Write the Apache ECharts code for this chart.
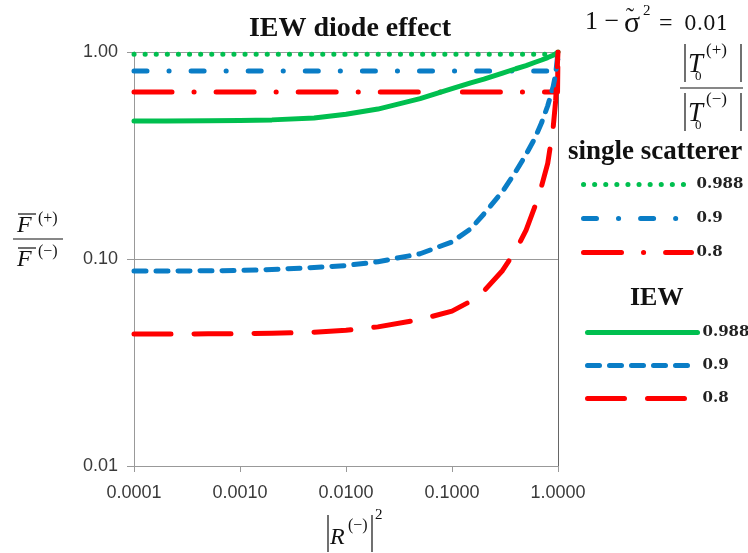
<!DOCTYPE html>
<html>
<head>
    <meta charset="UTF-8">
    <title>IEW diode effect</title>
    <script src="https://cdn.jsdelivr.net/npm/echarts@6/dist/echarts.min.js"></script>
    <style>
        html, body { margin: 0; padding: 0; background: #fff; }
        #main { width: 748px; height: 553px; }
    </style>
</head>
<body>
<div id="main"></div>
<script>
    // single scatterer: flat ratio, jumps to 1 at |R|^2 = 1
    var xSingle = [0.0001, 0.99, 1];
    var single988 = [0.976, 0.976, 1];
    var single09 = [0.81, 0.81, 1];
    var single08 = [0.64, 0.64, 1];

    // IEW curves
    var xIew = [0.0001, 0.0002, 0.0005, 0.001, 0.002, 0.005, 0.01, 0.02, 0.05, 0.1, 0.15,
        0.2, 0.3, 0.4, 0.5, 0.6, 0.7, 0.8, 0.9, 0.95, 1];
    var iew988 = [0.464, 0.464, 0.465, 0.467, 0.470, 0.480, 0.500, 0.530, 0.595, 0.665, 0.71,
        0.74, 0.79, 0.83, 0.86, 0.89, 0.915, 0.94, 0.965, 0.98, 1.0];
    var iew09 = [0.0875, 0.0875, 0.0877, 0.088, 0.089, 0.091, 0.093, 0.097, 0.106, 0.121, 0.14,
        0.165, 0.212, 0.265, 0.32, 0.38, 0.455, 0.55, 0.68, 0.78, 1.0];
    var iew08 = [0.0434, 0.0434, 0.0435, 0.0436, 0.0438, 0.0443, 0.0453, 0.047, 0.051, 0.056, 0.0625,
        0.07, 0.088, 0.11, 0.138, 0.177, 0.225, 0.29, 0.43, 0.58, 1.0];

    var singleNames = ['single 0.988', 'single 0.9', 'single 0.8'];
    var iewNames = ['IEW 0.988', 'IEW 0.9', 'IEW 0.8'];

    var GREEN = '#00BF4F', BLUE = '#0A7DC6', RED = '#FF0000';
    var SERIF = '"Liberation Serif", "DejaVu Serif", serif';

    function pairs(xs, ys) {
        var out = [];
        for (var i = 0; i < xs.length; i++) {
            out.push([xs[i], ys[i]]);
        }
        return out;
    }

    function lineSeries(name, xs, ys, color, dash) {
        return {
            name: name,
            type: 'line',
            data: pairs(xs, ys),
            symbol: 'none',
            smooth: false,
            lineStyle: { color: color, width: 5, type: dash, cap: 'round', join: 'round' },
            itemStyle: { color: color }
        };
    }

    function txt(x, y, s, font, extra) {
        var style = { x: x, y: y, text: s, font: font, fill: '#111', verticalAlign: 'middle' };
        for (var k in extra) style[k] = extra[k];
        return { type: 'text', style: style, z: 10 };
    }

    function ln(x1, y1, x2, y2, w) {
        return { type: 'line', shape: { x1: x1, y1: y1, x2: x2, y2: y2 },
            style: { stroke: '#111', lineWidth: w || 1.2 }, z: 10 };
    }

    var legendText = { fontFamily: '"DejaVu Serif", serif', fontWeight: 'bold', fontSize: 15, color: '#222', lineHeight: 14 };

    function legendBlock(names, left, top, width, gap) {
        return {
            orient: 'vertical',
            left: left,
            top: top,
            itemWidth: width,
            itemHeight: 14,
            itemGap: gap,
            data: names,
            formatter: function (n) { return n.split(' ')[1]; },
            textStyle: legendText,
            itemStyle: { opacity: 0, borderWidth: 0 },
            lineStyle: { width: 5, cap: 'round' }
        };
    }

    var chart = echarts.init(document.getElementById('main'));
    var option = {
        animation: false,
        title: {
            text: 'IEW diode effect',
            left: 345,
            textAlign: 'center',
            top: 10,
            textStyle: { fontFamily: SERIF, fontWeight: 'bold', fontSize: 28, color: '#111' }
        },
        grid: { left: 134, right: 190, top: 52, bottom: 87 },
        legend: [
            legendBlock(singleNames, 576, 172, 108, 19),
            legendBlock(iewNames, 580, 320, 110, 18)
        ],
        xAxis: {
            type: 'log',
            logBase: 10,
            min: 0.0001,
            max: 1,
            axisLine: { show: true, lineStyle: { color: '#999' } },
            axisTick: { show: true, length: 6, lineStyle: { color: '#999' } },
            splitLine: { show: false },
            axisLabel: {
                margin: 18,
                fontFamily: '"Liberation Sans", sans-serif',
                fontSize: 18,
                color: '#3a3a3a',
                formatter: function (v) { return v.toFixed(4); }
            }
        },
        yAxis: [{
            type: 'log',
            logBase: 10,
            min: 0.01,
            max: 1,
            axisLine: { show: true, lineStyle: { color: '#999' } },
            axisTick: { show: true, length: 7, lineStyle: { color: '#999' } },
            splitLine: { show: true, lineStyle: { color: '#999' } },
            axisLabel: {
                margin: 16,
                fontFamily: '"Liberation Sans", sans-serif',
                fontSize: 18,
                color: '#3a3a3a',
                formatter: function (v) { return v.toFixed(2); }
            }
        }, {
            type: 'log',
            logBase: 10,
            min: 0.01,
            max: 1,
            position: 'right',
            axisLine: { show: true, lineStyle: { color: '#666' } },
            axisTick: { show: false },
            axisLabel: { show: false },
            splitLine: { show: false }
        }],
        series: [
            lineSeries(singleNames[0], xSingle, single988, GREEN, [0.1, 11]),
            lineSeries(singleNames[1], xSingle, single09, BLUE, [13, 22, 0.1, 22]),
            lineSeries(singleNames[2], xSingle, single08, RED, [38, 22, 0.1, 22]),
            lineSeries(iewNames[0], xIew, iew988, GREEN, 'solid'),
            lineSeries(iewNames[1], xIew, iew09, BLUE, [12, 10]),
            lineSeries(iewNames[2], xIew, iew08, RED, [37, 23])
        ],
        graphic: [
            // 1 - sigma~^2 = 0.01
            txt(585, 22, '1 \u2212', '26px ' + SERIF),
            txt(624, 24, '\u03C3', '30px ' + SERIF),
            txt(626, 18, '\u02DC', '24px ' + SERIF),
            txt(643, 11, '2', '15px ' + SERIF),
            txt(659, 24, '=', '24px ' + SERIF),
            txt(684, 25, '0.01', '20px "DejaVu Serif", serif'),
            // |T0(+)| / |T0(-)|
            ln(685, 44, 685, 82), ln(741, 44, 741, 82),
            txt(688, 65, 'T', 'italic 27px ' + SERIF),
            txt(695, 77, '0', '13px ' + SERIF),
            txt(706, 51, '(+)', '17px ' + SERIF),
            ln(680, 88, 743, 88),
            ln(685, 93, 685, 131), ln(741, 93, 741, 131),
            txt(688, 114, 'T', 'italic 27px ' + SERIF),
            txt(695, 126, '0', '13px ' + SERIF),
            txt(706, 100, '(\u2212)', '17px ' + SERIF),
            // legend headers
            txt(568, 152, 'single scatterer', 'bold 27px ' + SERIF),
            txt(630, 298, 'IEW', 'bold 26px ' + SERIF),
            // y-axis name: F(+)/F(-)
            ln(18, 214, 36, 214),
            txt(17, 226, 'F', 'italic 24px ' + SERIF),
            txt(38, 219, '(+)', '16px ' + SERIF),
            ln(13, 239, 63, 239),
            ln(18, 248, 36, 248),
            txt(17, 260, 'F', 'italic 24px ' + SERIF),
            txt(38, 252, '(\u2212)', '16px ' + SERIF),
            // x-axis name: |R(-)|^2
            ln(328, 515, 328, 552), ln(372, 515, 372, 552),
            txt(330, 538, 'R', 'italic 24px ' + SERIF),
            txt(348, 526, '(\u2212)', '16px ' + SERIF),
            txt(375, 515, '2', '15px ' + SERIF)
        ]
    };
    chart.setOption(option);
</script>
</body>
</html>
